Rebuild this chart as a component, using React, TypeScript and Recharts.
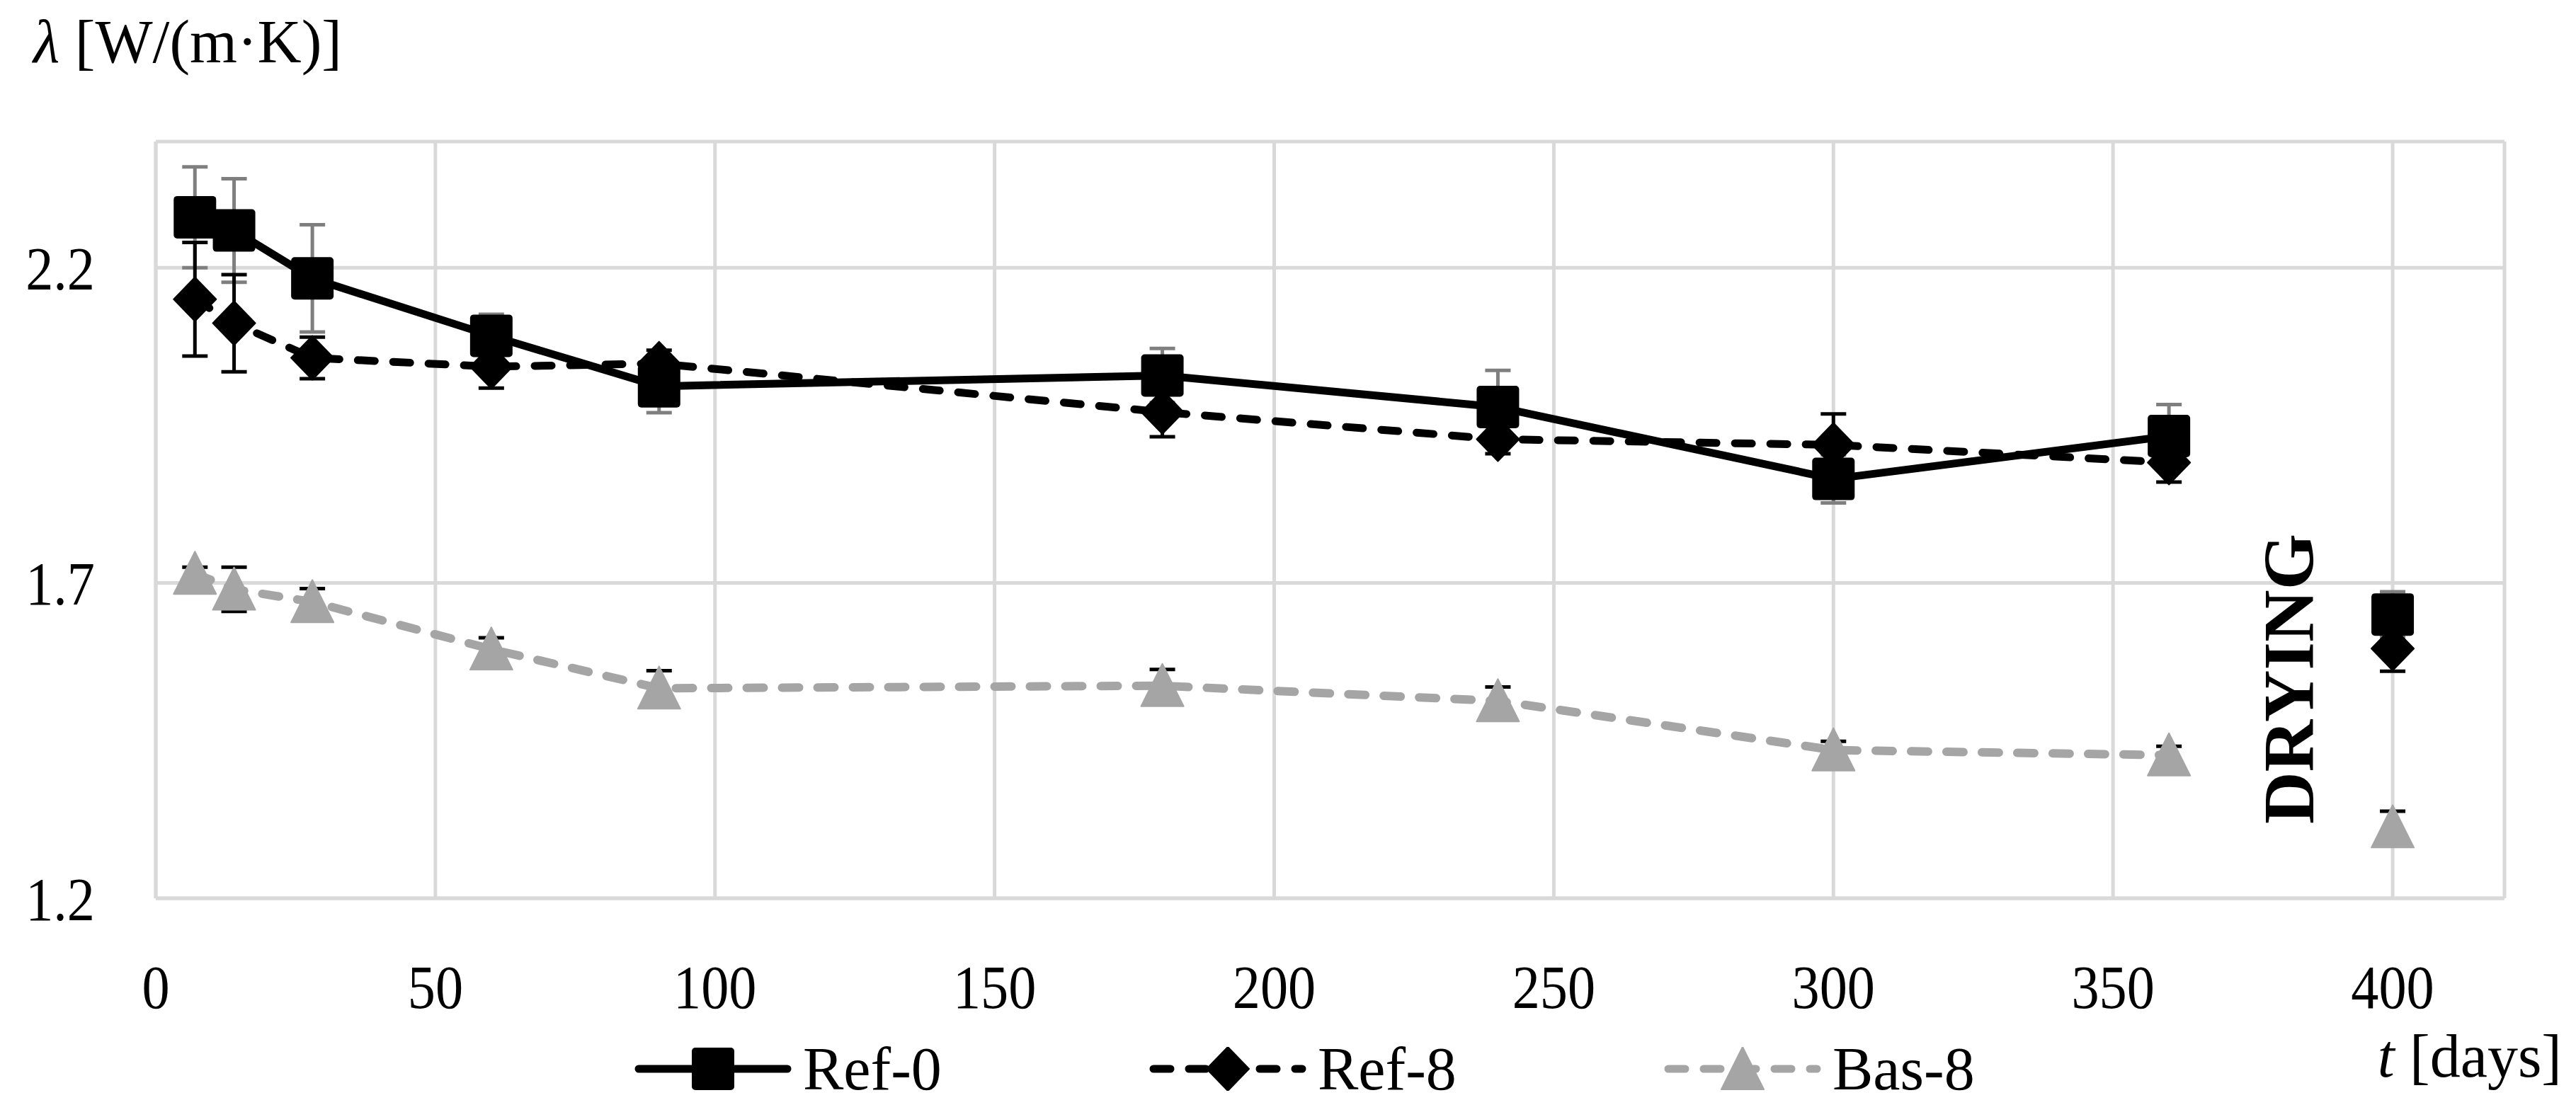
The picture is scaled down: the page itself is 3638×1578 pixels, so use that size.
import React from 'react'
import { CartesianGrid, ErrorBar, Legend, Line, LineChart, ReferenceLine, XAxis, YAxis } from 'recharts'

// measuring days (wet period) and the value after drying
const days = [7, 14, 28, 60, 90, 180, 240, 300, 360]
const dryDay = 400

const ref0 = [2.28, 2.259, 2.183, 2.092, 2.012, 2.029, 1.979, 1.865, 1.933]
const ref0Err = [0.08, 0.082, 0.085, 0.034, 0.042, 0.043, 0.058, 0.038, 0.05]
const ref8 = [2.15, 2.112, 2.057, 2.043, 2.048, 1.971, 1.928, 1.919, 1.891]
const ref8Err = [0.09, 0.077, 0.033, 0.034, 0.021, 0.039, 0.023, 0.049, 0.031]
const bas8 = [1.715, 1.69, 1.67, 1.595, 1.533, 1.537, 1.513, 1.435, 1.427]
const bas8Err = [0.01, 0.035, 0.021, 0.018, 0.028, 0.026, 0.022, 0.014, 0.014]

const ref0Dry = 1.65
const ref0DryErr = 0.036
const ref8Dry = 1.596
const ref8DryErr = 0.036
const bas8Dry = 1.313
const bas8DryErr = 0.025

const xTicks = [0, 50, 100, 150, 200, 250, 300, 350, 400]
const yTicks = [1.2, 1.7, 2.2]

const FONT = "'Liberation Serif', 'Times New Roman', serif"
const GREY = '#A5A5A5'
const GRID = '#D9D9D9'
const FS = 86
const SQUEEZE = 0.91 // the original tick text is set a little narrow

const rows = (vals: number[], errs: number[]) => days.map((t, i) => ({ t, v: vals[i], e: errs[i] }))
const dryRow = (v: number, e: number) => [{ t: dryDay, v, e }]

type Shape = 'square' | 'diamond' | 'triangle'

function Marker({ cx, cy, shape, fill }: { cx: number; cy: number; shape: Shape; fill: string }) {
  if (shape === 'square') {
    return <rect x={cx - 30} y={cy - 30} width={60} height={60} rx={5} fill={fill} />
  }
  if (shape === 'diamond') {
    return (
      <polygon
        points={`${cx},${cy - 31} ${cx + 30},${cy} ${cx},${cy + 31} ${cx - 30},${cy}`}
        fill={fill}
        stroke={fill}
        strokeWidth={2}
        strokeLinejoin="round"
      />
    )
  }
  return (
    <polygon
      points={`${cx},${cy - 31} ${cx + 30},${cy + 29} ${cx - 30},${cy + 29}`}
      fill={fill}
      stroke={fill}
      strokeWidth={2}
      strokeLinejoin="round"
    />
  )
}

const dotOf = (shape: Shape, fill: string) => (props: any) => {
  const { cx, cy, index } = props
  if (cx == null || cy == null) return <g key={`n-${index}`} />
  return <Marker key={`${shape}-${index}`} cx={cx} cy={cy} shape={shape} fill={fill} />
}

const legendItems: { name: string; shape: Shape; color: string; dash?: string }[] = [
  { name: 'Ref-0', shape: 'square', color: '#000' },
  { name: 'Ref-8', shape: 'diamond', color: '#000', dash: '24 26' },
  { name: 'Bas-8', shape: 'triangle', color: GREY, dash: '24 26' },
]

function LegendBox() {
  return (
    <div style={{ display: 'flex', fontFamily: FONT, fontSize: FS, lineHeight: '62px', color: '#000' }}>
      {legendItems.map((item) => (
        <div key={item.name} style={{ width: 727, display: 'flex', alignItems: 'center', flex: 'none' }}>
          <svg width={222} height={62} style={{ display: 'block' }}>
            <line
              x1={6}
              y1={31}
              x2={216}
              y2={31}
              stroke={item.color}
              strokeWidth={11}
              strokeLinecap="round"
              strokeDasharray={item.dash}
            />
            <Marker cx={111} cy={31} shape={item.shape} fill={item.color} />
          </svg>
          <span style={{ marginLeft: 16 }}>{item.name}</span>
        </div>
      ))}
    </div>
  )
}

function XTick(props: any) {
  const { x, y, payload } = props
  return (
    <text
      transform={`translate(${x} ${y}) scale(${SQUEEZE} 1)`}
      textAnchor="middle"
      dy="0.71em"
      fontFamily={FONT}
      fontSize={FS}
      fill="#000"
    >
      {payload.value}
    </text>
  )
}

function YTick(props: any) {
  const { x, y, payload } = props
  return (
    <text
      transform={`translate(${x} ${y}) scale(${SQUEEZE} 1)`}
      textAnchor="end"
      dy="0.355em"
      fontFamily={FONT}
      fontSize={FS}
      fill="#000"
    >
      {Number(payload.value).toFixed(1)}
    </text>
  )
}

function YTitle(props: any) {
  const vb = props.viewBox || { x: 0, y: 200 }
  return (
    <text x={vb.x + 47} y={vb.y - 112} fontFamily={FONT} fontSize={FS} fill="#000">
      <tspan fontStyle="italic">λ</tspan> [W/(m·K)]
    </text>
  )
}

function XTitle(props: any) {
  const vb = props.viewBox || { x: 220, y: 1269, width: 3317 }
  return (
    <text
      x={vb.x + vb.width + 81}
      y={vb.y + 252}
      textAnchor="end"
      fontFamily={FONT}
      fontSize={FS}
      fill="#000"
    >
      <tspan fontStyle="italic">t</tspan> [days]
    </text>
  )
}

function DryingLabel(props: any) {
  const vb = props.viewBox || { x: 3229, y: 200, height: 1069 }
  const x = vb.x + 38
  const y = vb.y + vb.height * 0.71
  return (
    <text
      x={x}
      y={y}
      transform={`rotate(-90 ${x} ${y})`}
      textAnchor="middle"
      fontFamily={FONT}
      fontWeight="bold"
      fontSize={102}
      fill="#000"
    >
      DRYING
    </text>
  )
}

const dashed = '24 26'

export default function App() {
  return (
    <div style={{ width: 3638, height: 1578, background: '#fff', fontFamily: FONT }}>
      <style>{'body{margin:0;background:#fff}'}</style>
      <LineChart width={3638} height={1578} margin={{ top: 200, right: 101, bottom: 0, left: 0 }}>
        <CartesianGrid stroke={GRID} strokeWidth={5} />
        <XAxis
          type="number"
          dataKey="t"
          domain={[0, 420]}
          ticks={xTicks}
          interval={0}
          allowDataOverflow
          height={309}
          tickLine={false}
          tickMargin={88}
          axisLine={{ stroke: GRID, strokeWidth: 5 }}
          tick={<XTick />}
          label={<XTitle />}
        />
        <YAxis
          type="number"
          domain={[1.2, 2.4]}
          ticks={yTicks}
          interval={0}
          allowDataOverflow
          width={220}
          tickLine={false}
          tickMargin={80}
          axisLine={{ stroke: GRID, strokeWidth: 5 }}
          tick={<YTick />}
          label={<YTitle />}
        />
        <ReferenceLine x={381} stroke="none" label={<DryingLabel />} />
        <Legend
          layout="horizontal"
          verticalAlign="middle"
          align="center"
          content={<LegendBox />}
          wrapperStyle={{ left: 896, top: 1479, width: 2400, height: 62 }}
        />

        <Line
          data={rows(ref0, ref0Err)}
          dataKey="v"
          name="Ref-0"
          stroke="#000"
          strokeWidth={11}
          strokeLinejoin="round"
          dot={dotOf('square', '#000')}
          activeDot={false}
          isAnimationActive={false}
        >
          <ErrorBar dataKey="e" direction="y" width={18} strokeWidth={5} stroke="#7F7F7F" isAnimationActive={false} />
        </Line>
        <Line
          data={rows(ref8, ref8Err)}
          dataKey="v"
          name="Ref-8"
          stroke="#000"
          strokeWidth={11}
          strokeDasharray={dashed}
          strokeLinecap="round"
          dot={dotOf('diamond', '#000')}
          activeDot={false}
          isAnimationActive={false}
        >
          <ErrorBar dataKey="e" direction="y" width={18} strokeWidth={5} stroke="#000" isAnimationActive={false} />
        </Line>
        <Line
          data={rows(bas8, bas8Err)}
          dataKey="v"
          name="Bas-8"
          stroke={GREY}
          strokeWidth={12}
          strokeDasharray={dashed}
          strokeLinecap="round"
          dot={dotOf('triangle', GREY)}
          activeDot={false}
          isAnimationActive={false}
        >
          <ErrorBar dataKey="e" direction="y" width={18} strokeWidth={5} stroke="#000" isAnimationActive={false} />
        </Line>

        <Line
          data={dryRow(ref0Dry, ref0DryErr)}
          dataKey="v"
          name="Ref-0 dried"
          stroke="none"
          dot={dotOf('square', '#000')}
          activeDot={false}
          legendType="none"
          isAnimationActive={false}
        >
          <ErrorBar dataKey="e" direction="y" width={18} strokeWidth={5} stroke="#7F7F7F" isAnimationActive={false} />
        </Line>
        <Line
          data={dryRow(ref8Dry, ref8DryErr)}
          dataKey="v"
          name="Ref-8 dried"
          stroke="none"
          dot={dotOf('diamond', '#000')}
          activeDot={false}
          legendType="none"
          isAnimationActive={false}
        >
          <ErrorBar dataKey="e" direction="y" width={18} strokeWidth={5} stroke="#000" isAnimationActive={false} />
        </Line>
        <Line
          data={dryRow(bas8Dry, bas8DryErr)}
          dataKey="v"
          name="Bas-8 dried"
          stroke="none"
          dot={dotOf('triangle', GREY)}
          activeDot={false}
          legendType="none"
          isAnimationActive={false}
        >
          <ErrorBar dataKey="e" direction="y" width={18} strokeWidth={5} stroke="#000" isAnimationActive={false} />
        </Line>
      </LineChart>
    </div>
  )
}
